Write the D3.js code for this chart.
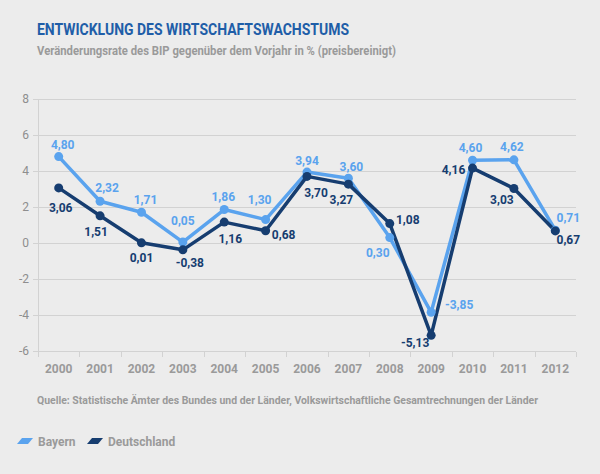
<!DOCTYPE html>
<html><head><meta charset="utf-8">
<script src="https://cdn.jsdelivr.net/npm/d3@7"></script>
<style>
html,body{margin:0;padding:0;background:#ececec;}
svg{display:block;font-family:Roboto,"Noto Sans",sans-serif;}
</style></head>
<body>
<script>
const years = ["2000","2001","2002","2003","2004","2005","2006","2007","2008","2009","2010","2011","2012"];
const bayern = [4.80,2.32,1.71,0.05,1.86,1.30,3.94,3.60,0.30,-3.85,4.60,4.62,0.71];
const deutschland = [3.06,1.51,0.01,-0.38,1.16,0.68,3.70,3.27,1.08,-5.13,4.16,3.03,0.67];
const yTicks = [8,6,4,2,0,-2,-4,-6];
const seriesNames = ["Bayern","Deutschland"];
const title = "ENTWICKLUNG DES WIRTSCHAFTSWACHSTUMS";
const subtitle = "Veränderungsrate des BIP gegenüber dem Vorjahr in % (preisbereinigt)";
const source = "Quelle: Statistische Ämter des Bundes und der Länder, Volkswirtschaftliche Gesamtrechnungen der Länder";

// label offsets (layout only): [dx, dy of label centre relative to point]
const bayernOff = [[4,-12],[7,-14],[4,-13],[0,-22],[-1,-13],[-6,-20],[0,-12],[3,-12],[-12,15],[28,-8],[-2,-13],[-2,-13],[13,-13]];
const deOff = [[2,20],[-4,16],[0,15],[7,13],[6,16],[18,4],[9,16],[-7,15],[18,-4],[-16,7],[-19,1],[-12,11],[13,9]];

const colors = {Bayern:"#5aa3ee", Deutschland:"#163d70"};

const W=600,H=474;
const svg=d3.select("body").append("svg").attr("width",W).attr("height",H);
svg.append("rect").attr("width",W).attr("height",H).attr("fill","#ececec");

const x=d3.scaleBand().domain(years).range([38,576]);
const y=d3.scaleLinear().domain([-6,8]).range([351,99]);

// title
svg.append("text").attr("x",37).attr("y",35).attr("fill","#1f5ea8").attr("font-size",16).attr("font-weight",700)
  .attr("textLength",312).attr("lengthAdjust","spacingAndGlyphs").text(title);
svg.append("text").attr("x",37).attr("y",55).attr("fill","#9a9a9a").attr("font-size",12).attr("font-weight",700)
  .attr("textLength",359).attr("lengthAdjust","spacingAndGlyphs").text(subtitle);

// grid
const g=svg.append("g");
g.selectAll("line.grid").data(yTicks).join("line").attr("class","grid")
  .attr("x1",33).attr("x2",576).attr("y1",d=>Math.round(y(d))+0.5).attr("y2",d=>Math.round(y(d))+0.5)
  .attr("stroke","#d2d2d2").attr("stroke-width",1);
g.selectAll("text.yl").data(yTicks).join("text").attr("class","yl")
  .attr("x",29).attr("y",d=>y(d)+4).attr("text-anchor","end").attr("fill","#8e8e8e")
  .attr("font-size",12).text(d=>d<0?"-"+Math.abs(d):d);
// y axis vertical
g.append("line").attr("x1",38.5).attr("x2",38.5).attr("y1",y(8)).attr("y2",356).attr("stroke","#d2d2d2");
// x axis ticks
const xa=svg.append("g").attr("transform","translate(0,352)");
xa.selectAll("line.tk").data(years.concat(["end"])).join("line").attr("class","tk")
  .attr("x1",(d,i)=>Math.round(x.range()[0]+i*x.bandwidth())+0.5)
  .attr("x2",(d,i)=>Math.round(x.range()[0]+i*x.bandwidth())+0.5)
  .attr("y1",0).attr("y2",5).attr("stroke","#d2d2d2");
xa.selectAll("text.xl").data(years).join("text").attr("class","xl")
  .attr("x",d=>x(d)+x.bandwidth()/2).attr("y",21).attr("text-anchor","middle")
  .attr("fill","#9a9a9a").attr("font-size",12).attr("font-weight",700).text(d=>d);

// series
const line=d3.line().x((d,i)=>x(years[i])+x.bandwidth()/2).y(d=>y(d));
const series=[{name:"Bayern",vals:bayern,off:bayernOff},{name:"Deutschland",vals:deutschland,off:deOff}];
const fmt=v=>v.toFixed(2).replace(".",",");
series.forEach(s=>{
  svg.append("path").datum(s.vals).attr("d",line).attr("fill","none")
    .attr("stroke",colors[s.name]).attr("stroke-width",3.5).attr("stroke-linejoin","round");
});
series.forEach(s=>{
  svg.append("g").selectAll("circle").data(s.vals).join("circle")
    .attr("cx",(d,i)=>x(years[i])+x.bandwidth()/2).attr("cy",d=>y(d)).attr("r",4.5)
    .attr("fill",colors[s.name]);
});
series.forEach(s=>{
  svg.append("g").selectAll("text").data(s.vals).join("text")
    .attr("x",(d,i)=>x(years[i])+x.bandwidth()/2+s.off[i][0])
    .attr("y",(d,i)=>y(d)+s.off[i][1]+4.5)
    .attr("text-anchor","middle").attr("fill",colors[s.name])
    .attr("font-size",12).attr("font-weight",700).text(d=>fmt(d));
});

// source
svg.append("text").attr("x",37).attr("y",404).attr("fill","#9a9a9a").attr("font-size",11).attr("font-weight",700)
  .attr("textLength",501).attr("lengthAdjust","spacingAndGlyphs").text(source);

// legend
const lg=svg.append("g").attr("transform","translate(0,441)");
const legX=[17,87];
seriesNames.forEach((n,i)=>{
  const gx=legX[i];
  lg.append("path").attr("d",`M${gx+5},-3 L${gx+16},-3 L${gx+11},3 L${gx},3 Z`).attr("fill",colors[n]);
  lg.append("text").attr("x",gx+21).attr("y",5).attr("fill","#9a9a9a").attr("font-size",12).attr("font-weight",700).text(n);
});
</script>
</body></html>
